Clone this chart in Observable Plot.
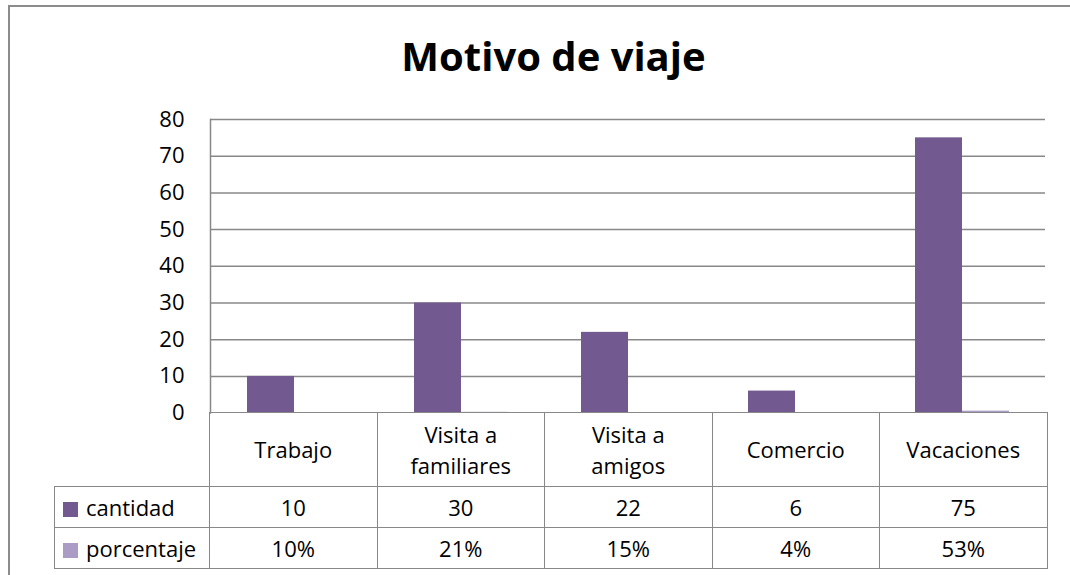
<!DOCTYPE html>
<html>
<head>
<meta charset="utf-8">
<script src="https://cdn.jsdelivr.net/npm/d3@7"></script>
<script src="https://cdn.jsdelivr.net/npm/@observablehq/plot@0.6"></script>
<style>
  html, body { margin: 0; padding: 0; background: #fff; }
  #wrap { position: relative; width: 1070px; height: 575px; overflow: hidden; font-family: "Open Sans", sans-serif; color: #000; }
  #outer { position: absolute; left: 8px; top: 5px; width: 1120px; height: 640px; border: 2px solid #8c8c8c; box-sizing: border-box; }
  #title { position: absolute; left: 0; width: 1107px; top: 36px; text-align: center; font: bold 40px/40px "Open Sans", sans-serif; }
  #chart { position: absolute; left: 0; top: 0; }
  #table { position: absolute; left: 54px; top: 412px; border-collapse: collapse; table-layout: fixed; font: 22px "Open Sans", sans-serif; }
  #table td { border: 1.5px solid #888; text-align: center; vertical-align: middle; padding: 0; }
  #table td.blank { border-top: none; border-left: none; }
  #table tr.head td { height: 73px; line-height: 31px; }
  #table tr.row td { height: 40px; line-height: 40px; }
  #table td.leg { text-align: left; padding-left: 8px; white-space: nowrap; }
  .key { display: inline-block; width: 15px; height: 15px; margin-right: 8px; vertical-align: -1px; }
</style>
</head>
<body>
<div id="wrap">
  <div id="outer"></div>
  <div id="title"></div>
  <div id="chart"></div>
  <table id="table"></table>
</div>
<script>
const titleText = "Motivo de viaje";
const categories = ["Trabajo", "Visita a familiares", "Visita a amigos", "Comercio", "Vacaciones"];
const categoryLines = [["Trabajo"], ["Visita a", "familiares"], ["Visita a", "amigos"], ["Comercio"], ["Vacaciones"]];
const seriesNames = ["cantidad", "porcentaje"];
const cantidad = [10, 30, 22, 6, 75];
const porcentaje = [0.10, 0.21, 0.15, 0.04, 0.53];
const yTicks = [0, 10, 20, 30, 40, 50, 60, 70, 80];
const seriesColors = ["#72598f", "#aa9cc4"];

document.getElementById("title").textContent = titleText;

const data = [];
categories.forEach((c, i) => {
  data.push({cat: c, series: "cantidad", value: cantidad[i]});
  data.push({cat: c, series: "porcentaje", value: porcentaje[i]});
});

const plotLeft = 209, plotRight = 1046.5, plotTop = 119, plotBottom = 412.6;
const W = 1070, H = 575;

const chart = Plot.plot({
  width: W,
  height: H,
  marginLeft: plotLeft,
  marginRight: W - plotRight,
  marginTop: plotTop,
  marginBottom: H - plotBottom,
  style: {fontFamily: "Open Sans", fontSize: "22px", color: "#000", background: "transparent"},
  fx: {domain: categories, padding: 0, axis: null},
  x: {domain: seriesNames, paddingInner: 0, paddingOuter: 0.75, axis: null},
  y: {domain: [0, 80], ticks: yTicks, tickSize: 0, tickPadding: 26, label: null},
  color: {domain: seriesNames, range: seriesColors},
  marks: [
    Plot.gridY(yTicks.filter(v => v > 0), {stroke: "#888", strokeOpacity: 1, strokeWidth: 1.5}),
    Plot.barY(data, {fx: "cat", x: "series", y: "value", fill: "series"}),
    Plot.frame({anchor: "left", facet: "super", stroke: "#888", strokeWidth: 1.5})
  ]
});
document.getElementById("chart").appendChild(chart);

// Data table
const colW = (plotRight - plotLeft) / categories.length;
const table = document.getElementById("table");
const cg = document.createElement("colgroup");
const c0 = document.createElement("col"); c0.style.width = (plotLeft - 54) + "px"; cg.appendChild(c0);
categories.forEach(() => { const c = document.createElement("col"); c.style.width = colW + "px"; cg.appendChild(c); });
table.appendChild(cg);
table.style.width = (plotRight - 54) + "px";

const head = document.createElement("tr"); head.className = "head";
const blank = document.createElement("td"); blank.className = "blank"; head.appendChild(blank);
categoryLines.forEach(lines => {
  const td = document.createElement("td");
  lines.forEach((l, k) => { if (k) td.appendChild(document.createElement("br")); td.appendChild(document.createTextNode(l)); });
  head.appendChild(td);
});
table.appendChild(head);

const fmtPct = d3.format(".0%");
const rows = [
  {name: seriesNames[0], color: seriesColors[0], vals: cantidad.map(String)},
  {name: seriesNames[1], color: seriesColors[1], vals: porcentaje.map(fmtPct)}
];
rows.forEach(r => {
  const tr = document.createElement("tr"); tr.className = "row";
  const leg = document.createElement("td"); leg.className = "leg";
  const key = document.createElement("span"); key.className = "key"; key.style.background = r.color;
  leg.appendChild(key); leg.appendChild(document.createTextNode(r.name));
  tr.appendChild(leg);
  r.vals.forEach(v => { const td = document.createElement("td"); td.textContent = v; tr.appendChild(td); });
  table.appendChild(tr);
});
</script>
</body>
</html>
